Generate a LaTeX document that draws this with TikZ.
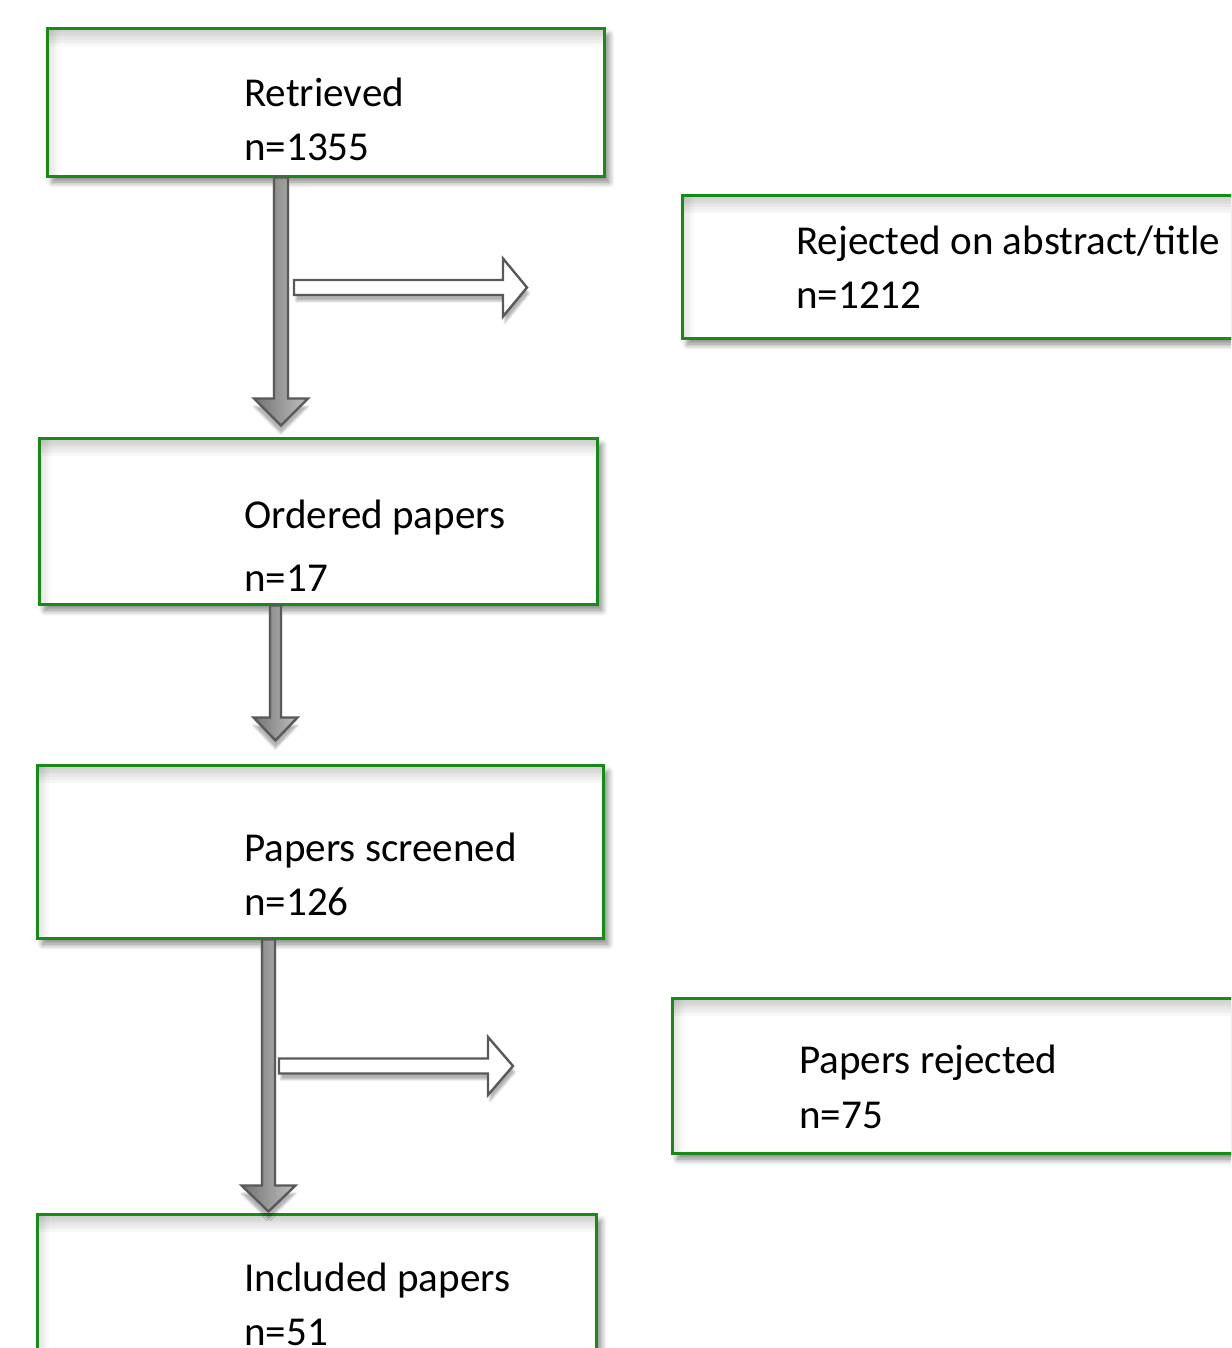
\documentclass[tikz,border=0pt]{standalone}
\usepackage{fontspec}
\setmainfont{Carlito}
\usetikzlibrary{positioning, calc, shadows.blur}

\definecolor{boxgreen}{RGB}{22,140,22}
\definecolor{arrowline}{RGB}{89,89,89}

\tikzset{
    stagebox/.style={rectangle, draw=boxgreen, line width=0.075cm, fill=white, inner sep=0pt,
        blur shadow={shadow xshift=0.12cm, shadow yshift=-0.15cm, shadow blur radius=0.15cm, shadow blur steps=10, shadow opacity=50},
        path picture={
            \foreach \k in {1,...,6}
                \fill[black, opacity=0.03] (path picture bounding box.north west) rectangle ([yshift=-\k*0.07cm]path picture bounding box.north east);
            \foreach \k in {1,...,4}
                \fill[black, opacity=0.025] (path picture bounding box.north west) rectangle ([xshift=\k*0.07cm]path picture bounding box.south west);
        }},
    stagetext/.style={anchor=base west, inner sep=0pt, font=\fontsize{29.2}{35}\selectfont},
    downarrow/.style={draw=arrowline, line width=0.06cm, line join=miter, left color=black!55, right color=black!25,
        blur shadow={shadow xshift=0cm, shadow yshift=-0.2cm, shadow blur radius=0.05cm, shadow opacity=30}},
    sidearrow/.style={draw=arrowline, line width=0.06cm, line join=miter, fill=white,
        blur shadow={shadow xshift=0.05cm, shadow yshift=-0.15cm, shadow blur radius=0.05cm, shadow opacity=30}}
}

% block arrow pointing down: from, to, shaft half width, head half width, head length
\newcommand{\downblock}[5]{%
    \draw[downarrow] ($(#1)+(-#3,0)$) -- ($(#2)+(-#3,-#5)$) -- ($(#2)+(-#4,-#5)$) -- (#2)
        -- ($(#2)+(#4,-#5)$) -- ($(#2)+(#3,-#5)$) -- ($(#1)+(#3,0)$) -- cycle;}
% block arrow pointing right: from, to, shaft half height, head half height, head length
\newcommand{\rightblock}[5]{%
    \draw[sidearrow] ($(#1)+(0,-#3)$) -- ($(#2)+(-#5,-#3)$) -- ($(#2)+(-#5,-#4)$) -- (#2)
        -- ($(#2)+(-#5,#4)$) -- ($(#2)+(-#5,#3)$) -- ($(#1)+(0,#3)$) -- cycle;}

\begin{document}
\begin{tikzpicture}[x=0.025cm, y=-0.025cm]
    \useasboundingbox (0,0) rectangle (1231,1348);
    \clip (0,0) rectangle (1231,1348);

    % Stages
    \node[stagebox, minimum width=13.9cm, minimum height=3.675cm] (retrieved) at (326,102.5) {};
    \node[stagebox, minimum width=14cm, minimum height=3.55cm] (abstract) at (963,267) {};
    \node[stagebox, minimum width=13.925cm, minimum height=4.125cm] (ordered) at (318.5,521.5) {};
    \node[stagebox, minimum width=14.125cm, minimum height=4.3cm] (screened) at (320.5,852) {};
    \node[stagebox, minimum width=14cm, minimum height=3.85cm] (rejected) at (953,1076) {};
    \node[stagebox, minimum width=13.95cm, minimum height=4.25cm] (included) at (317,1300) {};

    % Texts
    \node[stagetext] (retrieved-l1) at (244,106) {Retrieved};
    \node[stagetext] (retrieved-l2) at (244,160) {n=1355};
    \node[stagetext] (abstract-l1) at (796,254) {Rejected on abstract/title};
    \node[stagetext] (abstract-l2) at (796,308) {n=1212};
    \node[stagetext] (ordered-l1) at (244,528) {Ordered papers};
    \node[stagetext] (ordered-l2) at (244,591) {n=17};
    \node[stagetext] (screened-l1) at (244,861) {Papers screened};
    \node[stagetext] (screened-l2) at (244,915) {n=126};
    \node[stagetext] (rejected-l1) at (799,1073) {Papers rejected};
    \node[stagetext] (rejected-l2) at (799,1128) {n=75};
    \node[stagetext] (included-l1) at (244,1291) {Included papers};
    \node[stagetext] (included-l2) at (244,1345) {n=51};

    % Arrow ends
    \coordinate (down1-s) at (281,0 |- retrieved.south);
    \coordinate (down1-e) at ([yshift=0.3cm]ordered.north -| down1-s);
    \coordinate (down2-s) at (275.5,0 |- ordered.south);
    \coordinate (down2-e) at ([yshift=0.6cm]screened.north -| down2-s);
    \coordinate (down3-s) at (268.5,0 |- screened.south);
    \coordinate (down3-e) at ([yshift=0.05cm]included.north -| down3-s);
    \coordinate (side1-s) at (294,287.5);
    \coordinate (side1-e) at (527,287.5);
    \coordinate (side2-s) at (279,1066);
    \coordinate (side2-e) at (513,1066);

    % Arrows
    \downblock{down1-s}{down1-e}{7}{27}{27}
    \rightblock{side1-s}{side1-e}{7.5}{29}{24}
    \downblock{down2-s}{down2-e}{5.5}{22}{23}
    \downblock{down3-s}{down3-e}{6.5}{27}{26}
    \rightblock{side2-s}{side2-e}{7.5}{29}{25}
\end{tikzpicture}
\end{document}
